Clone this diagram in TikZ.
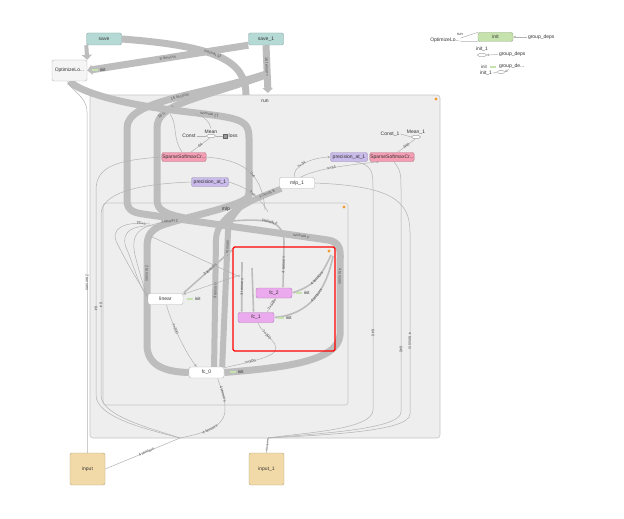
\documentclass[tikz,border=0pt]{standalone}
\usepackage{fontspec}
\setmainfont{Liberation Sans}
\usetikzlibrary{positioning,arrows.meta,shapes.geometric}
\pgfdeclarelayer{groups}
\pgfdeclarelayer{edges}
\pgfsetlayers{groups,edges,main}

\definecolor{bandgray}{HTML}{BDBDBD}
\definecolor{edgegray}{HTML}{B2B2B2}
\definecolor{groupfill}{HTML}{EEEEEE}
\definecolor{groupline}{HTML}{C6C6C6}
\definecolor{savefill}{HTML}{B5DAD6}
\definecolor{sparsefill}{HTML}{F49EB4}
\definecolor{precfill}{HTML}{C9BBEA}
\definecolor{fcfill}{HTML}{EBA9EE}
\definecolor{inputfill}{HTML}{F2DAA8}
\definecolor{initfill}{HTML}{C6E3AE}
\definecolor{dotorange}{HTML}{F39A30}

\tikzset{
  lbl/.style={font=\fontsize{4}{4.5}\selectfont, text=black!65, inner sep=0.4pt},
  opname/.style={font=\fontsize{5}{5.5}\selectfont, text=black!80, inner sep=0.8pt},
  opbox/.style={draw=black!30, fill=white, rounded corners=2pt, minimum width=35pt, minimum height=11pt,
    font=\fontsize{5}{5.5}\selectfont, text=black!80, inner sep=0.5pt},
  savebox/.style={opbox, fill=savefill, draw=savefill!75!black, minimum height=12pt},
  sparsebox/.style={opbox, fill=sparsefill, draw=sparsefill!75!black, minimum width=40pt, minimum height=9pt},
  precbox/.style={opbox, fill=precfill, draw=precfill!75!black, minimum width=37pt, minimum height=9pt},
  fcbox/.style={opbox, fill=fcfill, draw=fcfill!75!black, minimum width=36pt, minimum height=10pt},
  inputbox/.style={opbox, fill=inputfill, draw=inputfill!75!black, minimum width=35pt, minimum height=32pt},
  initbox/.style={opbox, fill=initfill, draw=initfill!75!black, minimum height=9pt},
  initmark/.style={fill=initfill, minimum width=6pt, minimum height=2pt, inner sep=0pt},
  initlbl/.style={font=\fontsize{4.5}{5}\selectfont, text=black!80, inner sep=0.5pt},
  smallell/.style={ellipse, draw=black!40, fill=white, minimum width=9pt, minimum height=3.5pt, inner sep=0pt},
  band/.style={draw=bandgray, line width=#1},
  band/.default=6pt,
  midband/.style={draw=bandgray, line width=1.6pt},
  thinedge/.style={draw=edgegray, line width=0.5pt},
  groupbox/.style={draw=groupline, fill=groupfill, rounded corners=3pt, line width=0.6pt},
  bandtip/.style={-{Triangle[length=5pt,width=10pt]}},
  smalltip/.style={-{Triangle[length=2.5pt,width=2.5pt]}},
}

\begin{document}
\begin{tikzpicture}[x=1pt,y=-1pt]

\useasboundingbox (0,0) rectangle (624,519);

% scopes
\begin{pgfonlayer}{groups}
  \fill[white] (0,0) rectangle (624,519);
  \draw[groupbox] (90,95) rectangle (440,438);
  \draw[groupbox] (103,203) rectangle (348,405);
\end{pgfonlayer}
\node[opname] (runlbl) at (265,101) {run};
\fill[dotorange] (436,99) circle (1.6pt);
\node[opname] (mlplbl) at (226,209) {mlp};
\fill[dotorange] (344,207) circle (1.6pt);
\fill[dotorange] (329,251) circle (1.6pt);

% top level
\node[savebox] (save) at (104,39) {save};
\node[savebox] (save1) at (266,39) {save\_1};
\node[opbox, fill=black!4, minimum height=21pt] (optim) at (69.5,70.5) {OptimizeLo...};
\node[initmark] (optimmark) at (95,70) {};
\node[initlbl, right=1pt of optimmark] (optiminit) {init};
\node[inputbox] (input) at (87.5,469) {input};
\node[inputbox] (input1) at (266.5,469) {input\_1};

% run
\node[opname] (const) at (189,136) {Const};
\node[smallell] (mean) at (211,136) {};
\node[opname, above=0pt of mean] (meanlbl) {Mean};
\node[draw=black!60, fill=black!40, minimum size=4pt, inner sep=0pt] (lossmark) at (225,136) {};
\node[opname, right=0.5pt of lossmark] (loss) {loss};
\node[sparsebox] (sparse) at (184,157) {SparseSoftmaxCr...};
\node[precbox] (prec) at (210,182) {precision\_at\_1};
\node[opbox] (mlp1) at (297,183) {mlp\_1};
\node[sparsebox] (sparse1) at (392,157) {SparseSoftmaxCr...};
\node[precbox] (prec1) at (349,157) {precision\_at\_1};
\node[opname] (const1) at (390,134) {Const\_1};
\node[smallell] (mean1) at (416,137) {};
\node[opname, above=0pt of mean1] (mean1lbl) {Mean\_1};

% mlp
\node[opbox] (linear) at (165.5,299) {linear};
\node[initmark] (linearmark) at (190,299) {};
\node[initlbl, right=1pt of linearmark] (linearinit) {init};
\node[opbox] (fc0) at (206.5,372.5) {fc\_0};
\node[initmark] (fc0mark) at (233,372) {};
\node[initlbl, right=1pt of fc0mark] (fc0init) {init};
\node[fcbox] (fc2) at (274,293) {fc\_2};
\node[initmark] (fc2mark) at (299,293) {};
\node[initlbl, right=1pt of fc2mark] (fc2init) {init};
\node[fcbox] (fc1) at (256,317.5) {fc\_1};
\node[initmark] (fc1mark) at (281,318) {};
\node[initlbl, right=1pt of fc1mark] (fc1init) {init};

% auxiliary nodes
\node[opname] (auxoptim) at (445,40) {OptimizeLo...};
\node[opname, font=\fontsize{4}{4.5}\selectfont] (auxrun) at (460,34) {run};
\node[initbox] (auxinit) at (495.5,37) {init};
\node[opname, anchor=west] (gdeps) at (527,37) {group\_deps};
\node[opname] (init1lbl) at (482,49) {init\_1};
\node[smallell] (init1ell) at (482,55) {};
\node[opname, anchor=west] (gdeps1) at (498,54.5) {group\_deps};
\node[initlbl] (auxinit2) at (484,67) {init};
\node[initmark] (auxmark) at (493,67) {};
\node[opname] (auxinit1) at (486,73) {init\_1};
\node[opname, anchor=west] (gdeps2) at (498,66) {group\_de...};
\node[smallell, minimum width=7pt] (gdell) at (501,72) {};

\coordinate (jleft) at (180,438);
\coordinate (jright) at (268,438);

\begin{pgfonlayer}{edges}
  % thick bands
  \draw[band=4pt, bandtip] (save.south west) -- (optim.north east);
  \draw[band=7pt, bandtip] (save1.south west) -- node[lbl, sloped]{8 tensors} (optim.east);
  \draw[band=7pt] (save.east) .. controls (215,46) and (246,60) .. node[lbl, sloped, rotate=180, pos=0.45]{16 tensors} (246,95);
  \draw[band=7pt, bandtip] (save1.south) -- node[lbl, sloped, pos=0.45]{16 tensors} (268,93);
  \draw[band=7pt] (266,74) .. controls (200,96) and (127,100) .. node[lbl, sloped, pos=0.45]{16 tensors} (127,128)
    -- (127,200) .. controls (127,212) and (135,213) .. (150,215)
    -- node[lbl, sloped, rotate=180, pos=0.85]{4 tensors} (328,240) .. controls (340,242) and (341,250) .. (340,262)
    -- node[lbl, sloped, pos=0.2]{4 tensors} (340,335) .. controls (338,362) and (280,368) .. (fc0.east);
  \draw[band=7pt] (263,76) .. controls (195,100) and (157,104) .. node[lbl, sloped, pos=0.72]{16 tensors} (157,128)
    -- (157,200) .. controls (157,210) and (165,214) .. (185,218);
  \draw[band=7pt] (optim.south) .. controls (80,92) and (120,104) .. (180,111)
    .. controls (238,118) and (249,118) .. node[lbl, sloped, rotate=180, pos=0.2]{12 tensors} (249,138)
    -- (249,195) .. controls (249,205) and (180,218) .. (160,226) .. controls (148,232) and (147,238) .. (147,250)
    -- node[lbl, sloped, pos=0.25]{2 tensors} (147,345) .. controls (147,368) and (170,372) .. (fc0.west);
  \draw[band=6pt] (249,190) .. controls (249,205) and (228,212) .. (228,232) -- node[lbl, sloped, pos=0.12]{4 tensors} (fc0.20);
  \draw[band=6pt] (mlp1.200) .. controls (262,196) and (216,212) .. node[lbl, sloped, rotate=180, pos=0.2]{8 tensors} (216,240)
    -- node[lbl, sloped, pos=0.4]{9 tensors} (fc0.37);

  % mlp internals
  \draw[midband] (232,221) .. controls (270,218) and (284,222) .. node[lbl, sloped, rotate=180, pos=0.45]{4 tensors} (284,242);
  \draw[midband, smalltip] (284,242) -- node[lbl, sloped]{4 tensors} (fc2.30);
  \draw[midband, smalltip] (242,262) -- node[lbl, sloped]{3 tensors} (fc1.160);
  \draw[midband, smalltip] (252,268) -- (fc1.115);
  \draw[midband, smalltip] (331,255) .. controls (322,275) and (315,285) .. node[lbl, sloped, pos=0.5]{4 tensors} (fc2.east);
  \draw[midband, smalltip] (333,256) .. controls (326,292) and (308,314) .. node[lbl, sloped, pos=0.45]{4 tensors} (fc1.east);
  \draw[thinedge, smalltip] (fc1.25) -- node[lbl, sloped]{?×100} (fc2.-70);
  \draw[thinedge] (fc1.-70) .. controls (262,335) and (285,345) .. node[lbl, sloped, pos=0.35]{?×200} (272,354)
    .. controls (262,360) and (240,364) .. node[lbl, sloped, pos=0.5]{?×200} (fc0.15);
  \draw[midband, smalltip] (232,250) -- node[lbl, sloped, pos=0.45]{3 tensors} (linear.north east);
  \draw[thinedge, smalltip] (240,275) -- (linear.15);
  \draw[thinedge] (150,236) -- (240,277);
  \draw[thinedge, smalltip] (150,224) .. controls (125,221) and (108,228) .. node[lbl, sloped, rotate=180, pos=0.12]{?×34} (118,245)
    .. controls (128,265) and (140,285) .. (linear.170);
  \draw[thinedge] (158,226) .. controls (125,224) and (120,236) .. (128,252) .. controls (135,270) and (140,288) .. (linear.175);
  \draw[thinedge] (176,221) .. controls (140,224) and (130,232) .. node[lbl, sloped, rotate=180, pos=0.06]{2 tensors} (135,255)
    .. controls (140,275) and (145,290) .. (linear.180);
  \draw[thinedge, smalltip] (linear.-80) .. controls (170,320) and (185,352) .. node[lbl, sloped, pos=0.4]{?×200} (fc0.150);

  % run internals
  \draw[thinedge] (const.east) -- (mean.west);
  \draw[thinedge] (mean.east) -- (lossmark.west);
  \draw[thinedge] (sparse.35) -- node[lbl, sloped]{64} (mean.-120);
  \draw[thinedge] (sparse.110) .. controls (172,138) and (178,125) .. (170,114);
  \draw[thinedge] (meanlbl.north) .. controls (210,122) and (204,116) .. (195,114);
  \draw[thinedge] (sparse.east) .. controls (240,160) and (262,170) .. node[lbl, sloped, pos=0.6]{?×c} (265,210);
  \draw[thinedge] (prec.east) .. controls (245,187) and (258,194) .. node[lbl, sloped, pos=0.55]{?×c} (268,212);
  \draw[thinedge, smalltip] (mlp1.110) .. controls (291,167) and (310,158) .. node[lbl, sloped, pos=0.45]{?×34} (prec1.west);
  \draw[thinedge, smalltip] (mlp1.60) .. controls (318,168) and (350,165) .. node[lbl, sloped, pos=0.45]{?×34} (sparse1.200);
  \draw[thinedge] (const1.east) -- (mean1.west);
  \draw[thinedge] (sparse1.40) -- node[lbl, sloped]{640} (mean1.-110);

  % long edges to the inputs
  \draw[thinedge] (optim.-100) .. controls (70,90) and (87,96) .. (87,112) -- node[lbl, sloped]{2 tensors} (input.north);
  \draw[thinedge] (sparse.west) .. controls (120,160) and (96,165) .. (96,190) -- node[lbl, sloped, pos=0.58]{64} (96,395) .. controls (96,418) and (150,430) .. (jleft);
  \draw[thinedge] (prec.west) .. controls (140,184) and (101,192) .. (101,215) -- node[lbl, sloped, pos=0.5]{64} (101,395) .. controls (101,416) and (150,428) .. (jleft);
  \draw[thinedge] (fc0.-27) .. controls (220,388) and (225,392) .. node[lbl, sloped, pos=0.6]{4 tensors} (225,410)
    .. controls (225,428) and (200,434) .. node[lbl, sloped, pos=0.5]{4 tensors} (jleft)
    -- node[lbl, sloped, pos=0.45]{4 tensors} (input.east);
  \draw[thinedge] (prec1.-40) .. controls (373,165) and (373,172) .. (373,190) -- node[lbl, sloped, pos=0.65]{640} (373,410) .. controls (373,430) and (300,433) .. (jright);
  \draw[thinedge] (sparse1.-70) .. controls (401,170) and (401,175) .. (401,190) -- node[lbl, sloped, pos=0.72]{640} (401,412) .. controls (401,430) and (310,434) .. (jright);
  \draw[thinedge] (mlp1.east) .. controls (390,186) and (410,200) .. (410,232) -- node[lbl, sloped, pos=0.6]{4 tensors} (410,414) .. controls (410,432) and (320,435) .. (jright);
  \draw[thinedge] (jright) -- node[lbl, sloped, font=\fontsize{3}{3.5}\selectfont]{4 tensors} (input1.north);

  % auxiliary edges
  \draw[thinedge] (auxoptim.east) ++(0,-2) -- (auxinit.165);
  \draw[thinedge] (auxoptim.east) ++(0,1.5) -- (auxinit.195);
  \draw[thinedge, smalltip] (gdeps.west) -- (auxinit.east);
  \draw[thinedge, smalltip] (gdeps1.west) -- (init1ell.east);
  \draw[thinedge, smalltip] (gdeps2.-130) -- (gdell.east);
  \draw[thinedge] (auxinit1.east) -- (gdell.west);
\end{pgfonlayer}

% fc scope outline
\draw[red, line width=1.2pt, rounded corners=1.5pt] (233,247) rectangle (335,351);

\end{tikzpicture}
\end{document}
